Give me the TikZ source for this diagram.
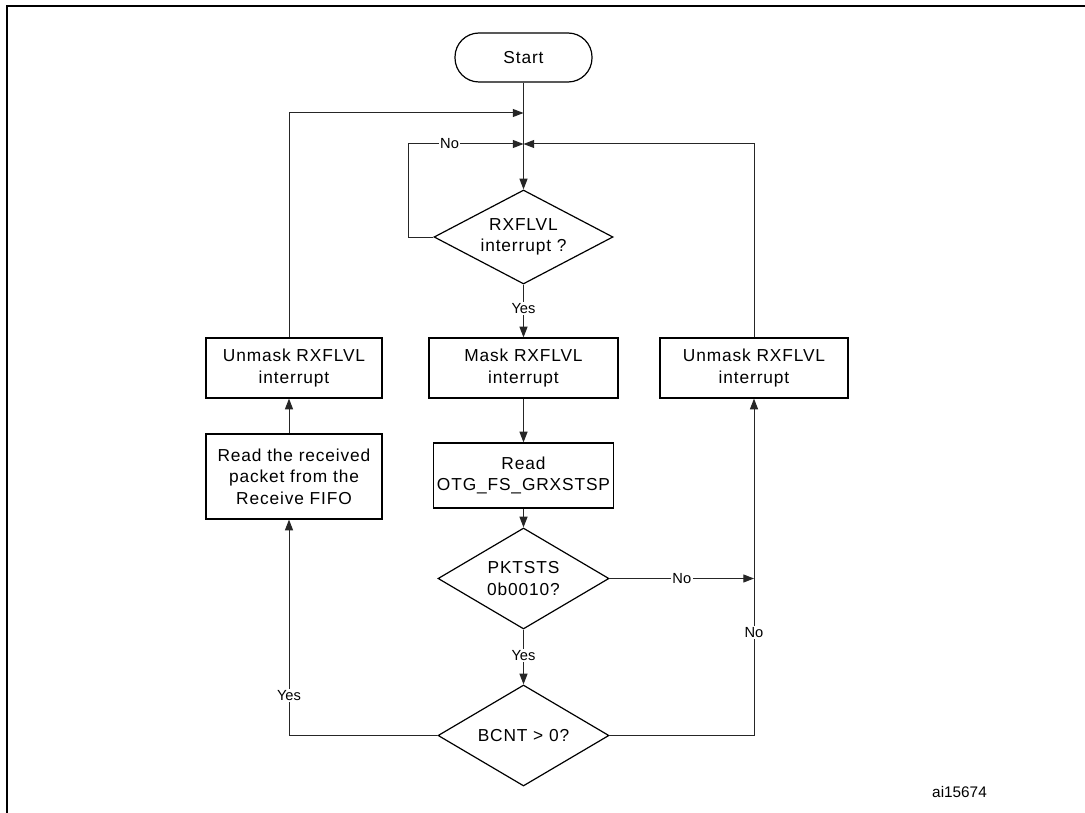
\documentclass[tikz,border=0pt]{standalone}
\usepackage{fontspec}
\setmainfont{Liberation Sans}
\newfontfamily\boxfont{Liberation Sans}[LetterSpace=5]
\usetikzlibrary{shapes.geometric,arrows.meta}
\tikzset{
  conn/.style={line width=0.75pt, draw=black!85},
  arr/.style={conn, -{Triangle[length=8pt,width=6pt]}},
  txt/.style={align=center, font=\boxfont\fontsize{13}{16}\selectfont, inner sep=0pt},
  boxnode/.style={txt, draw, line width=0.9pt},
  decision/.style={txt, diamond, draw, line width=0.9pt, aspect=1.7},
  terminal/.style={txt, draw, line width=0.9pt, rounded corners=18pt},
  lbl/.style={fill=white, inner sep=1pt, font=\fontsize{11}{13}\selectfont},
}
\begin{document}
\begin{tikzpicture}[x=0.75pt,y=-0.75pt]
\useasboundingbox (0,0) rectangle (1085,813);
\fill[white] (0,0) rectangle (1085,813);
% frame (cropped)
\draw[line width=1.6pt] (7,813) -- (7,6) -- (1085,6);

% nodes
\node[terminal, minimum width=102.75pt, minimum height=36.75pt] (start) at (523.5,57.5) {Start};
\coordinate (j1) at (523.5,113);
\coordinate (j2) at (523.5,144);
\coordinate (nl) at (408,144);
\coordinate (lx) at (289,0);
\node[decision, minimum width=134.25pt, minimum height=70.5pt] (d1) at (523.5,237) {RXFLVL\\interrupt ?};
\node[boxnode, minimum width=141.75pt, minimum height=45pt] (mask) at (523.5,368) {Mask RXFLVL\\interrupt};
\node[boxnode, minimum width=135pt, minimum height=48.75pt] (read) at (523.5,475.5) {Read\\OTG\_FS\_GRXSTSP};
\node[decision, minimum width=128.25pt, minimum height=75.75pt] (d2) at (523.5,578.5) {PKTSTS\\0b0010?};
\node[decision, minimum width=128.25pt, minimum height=75.75pt] (d3) at (523.5,735.5) {BCNT > 0?};
\node[boxnode, minimum width=132pt, minimum height=45pt] (unl) at (294,368) {Unmask RXFLVL\\interrupt};
\node[boxnode, minimum width=132pt, minimum height=63.75pt] (rdl) at (294,476.5) {Read the received\\packet from the\\Receive FIFO};
\node[boxnode, minimum width=141pt, minimum height=45pt] (unr) at (754,368) {Unmask RXFLVL\\interrupt};
\coordinate (jr) at (754,578.5);
\node[font=\fontsize{11.5}{13}\selectfont, inner sep=0pt] (id) at (959.5,792) {ai15674};

% connectors
\draw[arr] (start) -- (d1);
\draw[arr] (unl.north -| lx) |- (j1);
\draw[arr] (d1.west) -| (nl) -- node[lbl, pos=0.36] {No} (j2);
\draw[arr] (unr.north) |- (j2);
\draw[arr] (d1) -- node[lbl, pos=0.46] {Yes} (mask);
\draw[arr] (mask) -- (read);
\draw[arr] (read) -- (d2);
\draw[arr] (d2.east) -- node[lbl, pos=0.5] {No} (jr);
\draw[arr] (d2) -- node[lbl, pos=0.48] {Yes} (d3);
\draw[arr] (d3.west) -| node[lbl, pos=0.593] {Yes} (rdl.south -| lx);
\draw[arr] (rdl.north -| lx) -- (unl.south -| lx);
\draw[arr] (d3.east) -| node[lbl, pos=0.653] {No} (unr.south);
\end{tikzpicture}
\end{document}
